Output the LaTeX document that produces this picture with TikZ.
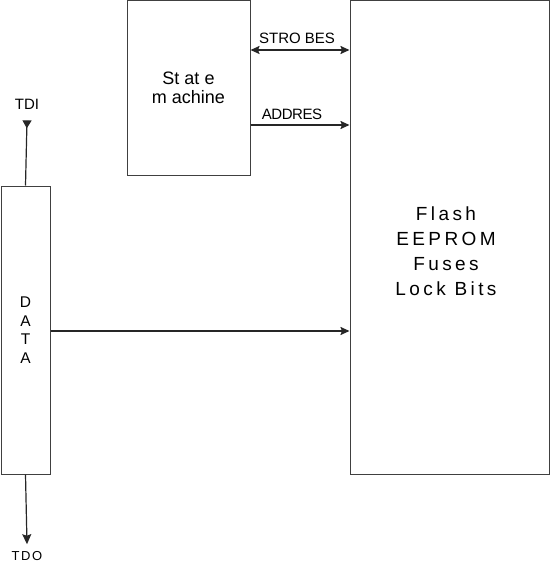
\documentclass[tikz,border=0pt]{standalone}
\usepackage{fontspec}
\setmainfont{Liberation Sans}
\usetikzlibrary{arrows.meta, positioning}

\begin{document}
\begin{tikzpicture}[
  x=1pt, y=-1pt,
  box/.style={rectangle, draw=black!75, line width=1pt, inner sep=0pt, align=center},
  lbl/.style={inner sep=0pt, font=\fontsize{15}{17}\selectfont},
  arrow/.style={-{Stealth[length=9pt, width=8pt, inset=1.5pt]}, line width=1.7pt, draw=black!85},
  biarrow/.style={{Stealth[length=9pt, width=8pt, inset=1.5pt]}-{Stealth[length=9pt, width=8pt, inset=1.5pt]}, line width=1.7pt, draw=black!85},
  pin/.style={line width=1.2pt, draw=black!85},
]
  \useasboundingbox (0,0) rectangle (551,564);

  \node[box, minimum width=123pt, minimum height=174pt, font=\fontsize{18}{19}\selectfont] (sm) at (188.5,88) {St at e\\m achine};
  \node[box, minimum width=199pt, minimum height=474pt] (flash) at (449.5,237.5) {};
  \node[align=center, inner sep=0pt, font=\fontsize{19}{25}\selectfont\addfontfeature{LetterSpace=18}] (mem) at (446,251) {Flash\\EEPROM\\Fuses\\Lock Bits};
  \node[box, minimum width=49pt, minimum height=288pt, font=\fontsize{15.5}{18.5}\selectfont] (data) at (25.5,330) {D\\A\\T\\A};

  \coordinate (strobe) at (0,50);
  \coordinate (addr) at (0,125);
  \coordinate (dline) at (0,331);
  \draw[biarrow] (sm.east |- strobe) -- node[lbl, above=6pt, xshift=-3pt] (strobes) {STRO BES} (flash.west |- strobe);
  \draw[arrow] (sm.east |- addr) -- node[lbl, above=5pt, xshift=-8pt, font=\fontsize{15}{17}\selectfont\addfontfeature{LetterSpace=-3}] (addres) {ADDRES} (flash.west |- addr);
  \draw[arrow] (data.east |- dline) -- (flash.west |- dline);

  \node[lbl] (tdi) at (27,104) {TDI};
  \node[lbl, font=\fontsize{13}{15}\selectfont\addfontfeature{LetterSpace=12}] (tdo) at (27,556) {TDO};
  \draw[pin, {Triangle[reversed, length=8pt, width=9pt]}-] ([yshift=-11pt]tdi.south) -- (data.north);
  \draw[pin, -{Stealth[length=10pt, width=9pt, inset=1.5pt]}] (data.south) -- ([yshift=7pt]tdo.north);
\end{tikzpicture}
\end{document}
